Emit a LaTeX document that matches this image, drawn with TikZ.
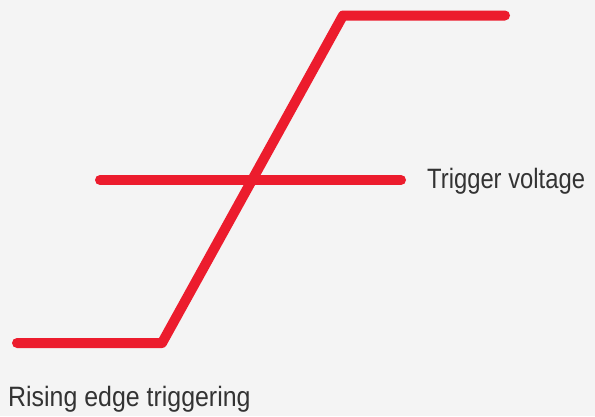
\documentclass[tikz,border=0pt]{standalone}
\usepackage{fontspec}
\setmainfont{Liberation Sans}
\definecolor{bg}{HTML}{F4F4F4}
\definecolor{sigred}{HTML}{EC1C2D}
\definecolor{txt}{HTML}{333333}
\begin{document}
\begin{tikzpicture}[x=1pt,y=-1pt,
  sig/.style={draw=sigred,line width=10pt,line cap=round,line join=round},
  lbl/.style={text=txt,font=\fontsize{28}{30}\selectfont,inner sep=0pt,anchor=base west}]
\fill[bg] (0,0) rectangle (595,416);
\useasboundingbox (0,0) rectangle (595,416);
\coordinate (a) at (17,343);
\coordinate (b) at (162,343);
\coordinate (c) at (343,15.5);
\coordinate (d) at (505,15.5);
\coordinate (m1) at (100,180);
\coordinate (m2) at (401,180);
\draw[sig] (a) -- (b) -- (c) -- (d);
\draw[sig] (m1) -- (m2);
\node[lbl,xscale=0.85] (tv) at (427,188) {Trigger voltage};
\node[lbl,xscale=0.89] (re) at (8,406) {Rising edge triggering};
\end{tikzpicture}
\end{document}
